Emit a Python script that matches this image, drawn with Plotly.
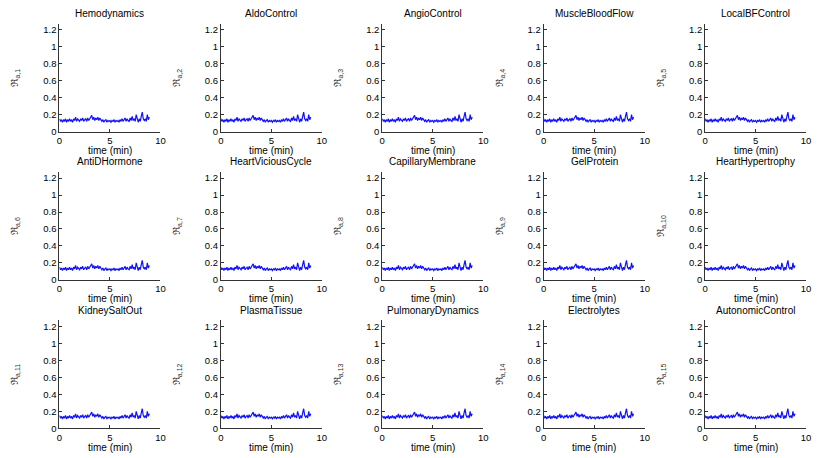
import plotly.graph_objects as go

titles = ["Hemodynamics", "AldoControl", "AngioControl", "MuscleBloodFlow", "LocalBFControl",
          "AntiDHormone", "HeartViciousCycle", "CapillaryMembrane", "GelProtein", "HeartHypertrophy",
          "KidneySaltOut", "PlasmaTissue", "PulmonaryDynamics", "Electrolytes", "AutonomicControl"]

time_min = [round(i * 0.1, 1) for i in range(90)]
ratio = [0.15, 0.12, 0.14, 0.11, 0.14, 0.12, 0.15, 0.11, 0.14, 0.12,
         0.15, 0.12, 0.14, 0.11, 0.15, 0.13, 0.17, 0.12, 0.15, 0.13,
         0.12, 0.15, 0.13, 0.16, 0.12, 0.14, 0.15, 0.12, 0.16, 0.13,
         0.15, 0.17, 0.19, 0.14, 0.17, 0.13, 0.16, 0.14, 0.17, 0.13,
         0.16, 0.14, 0.12, 0.14, 0.11, 0.13, 0.14, 0.11, 0.13, 0.12,
         0.13, 0.11, 0.13, 0.12, 0.14, 0.11, 0.13, 0.12, 0.13, 0.11,
         0.14, 0.12, 0.15, 0.12, 0.14, 0.16, 0.12, 0.15, 0.13, 0.12,
         0.16, 0.13, 0.18, 0.13, 0.15, 0.12, 0.20, 0.13, 0.11, 0.15,
         0.12, 0.18, 0.23, 0.15, 0.13, 0.15, 0.12, 0.20, 0.14, 0.17]

y_ticks = [0, 0.2, 0.4, 0.6, 0.8, 1, 1.2]
y_tick_text = ["0", "0.2", "0.4", "0.6", "0.8", "1", "1.2"]
x_ticks = [0, 5, 10]
x_label = "time (min)"

W, H = 819, 458
fig = go.Figure()
font = dict(family="Liberation Sans, Arial, sans-serif", size=10, color="black")
tick_font = dict(family="Liberation Sans, Arial, sans-serif", size=9.5, color="black")

annotations = []
for i, name in enumerate(titles):
    r, c = divmod(i, 5)
    k = i + 1
    x0 = 57 + 163 * c
    x1 = x0 + 102
    ybot = 133 + 150 * r
    ytop = 24 + 150 * r
    xa = "xaxis" if k == 1 else f"xaxis{k}"
    ya = "yaxis" if k == 1 else f"yaxis{k}"
    fig.add_trace(go.Scatter(x=time_min, y=ratio, mode="lines",
                             line=dict(color="#1010ff", width=1.2),
                             xaxis=f"x{k}" if k > 1 else "x",
                             yaxis=f"y{k}" if k > 1 else "y",
                             showlegend=False, hoverinfo="skip"))
    fig.layout[xa] = dict(domain=[x0 / W, x1 / W], range=[0, 10], tickvals=x_ticks,
                          showline=True, linecolor="#333333", linewidth=1, mirror=False,
                          ticks="inside", ticklen=3, tickcolor="#333333",
                          showgrid=False, zeroline=False, tickfont=tick_font,
                          anchor=f"y{k}" if k > 1 else "y")
    fig.layout[ya] = dict(domain=[1 - ybot / H, 1 - ytop / H], range=[0, 1.27],
                          tickvals=y_ticks, ticktext=y_tick_text,
                          showline=True, linecolor="#333333", linewidth=1, mirror=False,
                          ticks="inside", ticklen=3, tickcolor="#333333",
                          showgrid=False, zeroline=False, tickfont=tick_font,
                          anchor=f"x{k}" if k > 1 else "x",
                          title=dict(text=f"ℜ<sub>a,{k}</sub>",
                                     font=dict(family=font["family"], size=10, color="#333333"),
                                     standoff=22))
    annotations.append(dict(text=name, x=(x0 + x1) / 2 / W, y=1 - (13.5 + 150 * r) / H,
                            xref="paper", yref="paper", showarrow=False,
                            xanchor="center", yanchor="middle", font=font))
    annotations.append(dict(text=x_label, x=(x0 + x1) / 2 / W, y=1 - (152 + 150 * r) / H,
                            xref="paper", yref="paper", showarrow=False,
                            xanchor="center", yanchor="middle", font=font))

fig.update_layout(width=W, height=H, margin=dict(l=0, r=0, t=0, b=0),
                  paper_bgcolor="white", plot_bgcolor="white",
                  annotations=annotations, font=font)
fig.write_html("out.html")
